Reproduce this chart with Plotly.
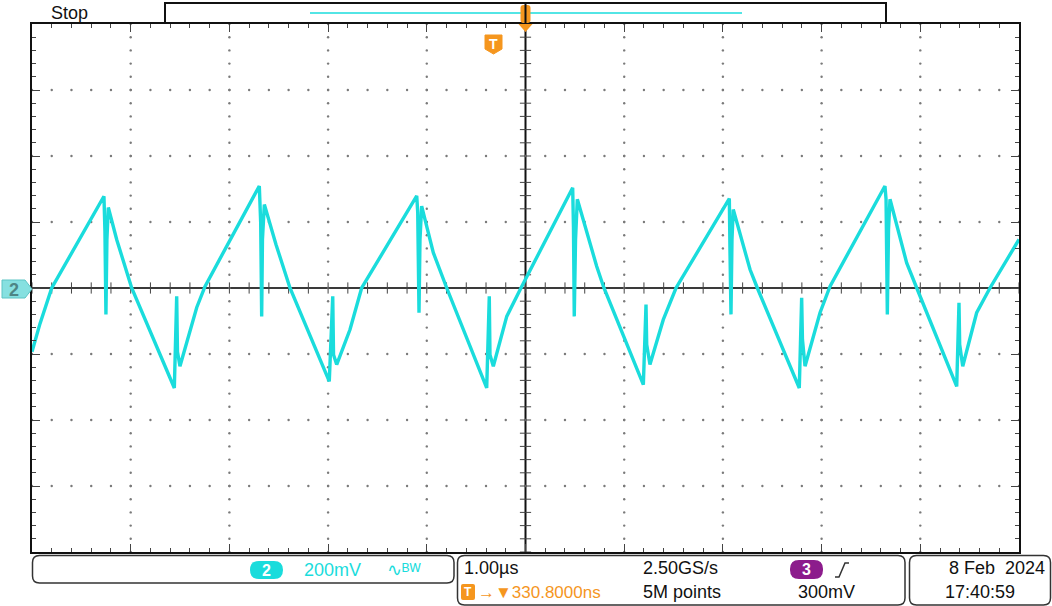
import numpy as np
import plotly.graph_objects as go

# ---- Channel 2 waveform: vertex times (µs) and levels (mV) ----
t_us = [-5.000, -4.919, -4.800, -4.271, -4.261, -4.251, -4.241, -4.227, -4.142, -3.990,
        -3.558, -3.534, -3.526, -3.501, -3.331, -3.247, -2.697, -2.683, -2.673, -2.665,
        -2.646, -2.528, -2.386, -1.988, -1.953, -1.945, -1.913, -1.778, -1.660, -1.102,
        -1.092, -1.079, -1.069, -1.052, -0.934, -0.798, -0.393, -0.367, -0.360, -0.326,
        -0.190, -0.046, 0.478, 0.486, 0.494, 0.507, 0.525, 0.721, 0.795, 1.194,
        1.221, 1.228, 1.261, 1.396, 1.525, 2.065, 2.072, 2.082, 2.092, 2.105,
        2.275, 2.349, 2.774, 2.798, 2.806, 2.832, 2.984, 3.085, 3.642, 3.653,
        3.666, 3.678, 3.693, 3.862, 3.964, 4.369, 4.392, 4.399, 4.430, 4.571,
        4.706, 5.000]
v_mV = [-193, -108, 0, 278, 171, -80, 147, 244, 147, 0,
        -303, -25, -193, -237, -59, 5, 309, 198, -86, 147,
        253, 132, 0, -283, -25, -202, -232, -126, 0, 279,
        229, -75, 147, 248, 107, 0, -303, -25, -202, -237,
        -86, 0, 304, 184, -86, 147, 269, 66, 0, -293,
        -50, -171, -232, -96, 0, 271, 107, -80, 147, 238,
        56, 0, -303, -30, -156, -237, -75, 5, 309, 269,
        -80, 178, 269, 76, 0, -298, -45, -171, -237, -75,
        0, 147]

# ---- Scope settings ----
n_hdiv = 10
n_vdiv = 8
time_per_div_us = 1.0
mv_per_div = 200

status_text = "Stop"
ch2_scale = "200mV"
bw_limit = "∿ᴮᵂ"
timebase = "1.00µs"
sample_rate = "2.50GS/s"
record_len = "5M points"
trig_delay = "→▼330.8000ns"
trig_level = "300mV"
date_text = "8 Feb\u00a0\u00a02024"
time_text = "17:40:59"

CYAN = "#1ADCDC"
ORANGE = "#F5961E"
PURPLE = "#8C1C8C"
FONT = "Liberation Sans, Arial, sans-serif"

W, H = 1052, 606
L, R, T, B = 32, 33, 24, 54
PW, PH = W - L - R, H - T - B

x_half = n_hdiv / 2 * time_per_div_us
y_half = n_vdiv / 2 * mv_per_div


def fx(px):
    return (px - L) / PW


def fy(py):
    return (H - B - py) / PH


def rrect(x0, y0, x1, y1, r):
    """Rounded rectangle path in paper coordinates from pixel corners."""
    pts = [
        f"M {fx(x0 + r)},{fy(y0)}",
        f"L {fx(x1 - r)},{fy(y0)}",
        f"Q {fx(x1)},{fy(y0)} {fx(x1)},{fy(y0 + r)}",
        f"L {fx(x1)},{fy(y1 - r)}",
        f"Q {fx(x1)},{fy(y1)} {fx(x1 - r)},{fy(y1)}",
        f"L {fx(x0 + r)},{fy(y1)}",
        f"Q {fx(x0)},{fy(y1)} {fx(x0)},{fy(y1 - r)}",
        f"L {fx(x0)},{fy(y0 + r)}",
        f"Q {fx(x0)},{fy(y0)} {fx(x0 + r)},{fy(y0)}",
        "Z",
    ]
    return " ".join(pts)


def poly(points):
    s = " ".join(("M" if i == 0 else "L") + f" {fx(x)},{fy(y)}" for i, (x, y) in enumerate(points))
    return s + " Z"


fig = go.Figure()

# Graticule dots along the major division lines
minor_t = np.round(np.arange(-x_half, x_half + 1e-9, time_per_div_us / 5), 6)
minor_v = np.round(np.arange(-y_half, y_half + 1e-9, mv_per_div / 5), 6)
major_t = [t for t in np.arange(-x_half + 1, x_half, time_per_div_us) if abs(t) > 1e-9]
major_v = [v for v in np.arange(-y_half + mv_per_div, y_half, mv_per_div) if abs(v) > 1e-9]
gx, gy = [], []
for t in major_t:
    gx += [t] * len(minor_v)
    gy += list(minor_v)
for v in major_v:
    gx += list(minor_t)
    gy += [v] * len(minor_t)
fig.add_trace(go.Scatter(x=gx, y=gy, mode="markers", hoverinfo="skip",
                         marker=dict(size=2.4, color="#7a7a7a")))

# Ticks on the centre cross-hair
fig.add_trace(go.Scatter(x=minor_t, y=[0] * len(minor_t), mode="markers", hoverinfo="skip",
                         marker=dict(symbol="line-ns", size=8, line=dict(width=1, color="#444"))))
fig.add_trace(go.Scatter(x=[0] * len(minor_v), y=minor_v, mode="markers", hoverinfo="skip",
                         marker=dict(symbol="line-ew", size=8, line=dict(width=1, color="#444"))))

# Channel 2 trace
fig.add_trace(go.Scatter(x=t_us, y=v_mV, mode="lines", hoverinfo="skip",
                         line=dict(color=CYAN, width=3.4)))

shapes = []
# centre cross-hair
shapes.append(dict(type="line", xref="x", yref="paper", x0=0, x1=0, y0=0, y1=1,
                   line=dict(color="#111", width=2), layer="below"))
shapes.append(dict(type="line", xref="paper", yref="y", x0=0, x1=1, y0=0, y1=0,
                   line=dict(color="#3a3a3a", width=2), layer="below"))

# record view bar along the top
shapes.append(dict(type="rect", xref="paper", yref="paper", x0=fx(165), x1=fx(886), y0=fy(23), y1=fy(3),
                   line=dict(color="#111", width=2), fillcolor="white"))
shapes.append(dict(type="line", xref="paper", yref="paper", x0=fx(310), x1=fx(742), y0=fy(13), y1=fy(13),
                   line=dict(color=CYAN, width=1.5)))
# trigger position marker
shapes.append(dict(type="path", xref="paper", yref="paper", path=rrect(520.5, 5, 530.5, 23, 3),
                   fillcolor=ORANGE, line=dict(width=0)))
shapes.append(dict(type="line", xref="paper", yref="paper", x0=fx(525.5), x1=fx(525.5), y0=fy(2), y1=fy(24),
                   line=dict(color="#111", width=2)))
shapes.append(dict(type="path", xref="paper", yref="paper",
                   path=poly([(518.5, 24), (532.5, 24), (525.5, 32)]),
                   fillcolor=ORANGE, line=dict(width=0)))
# trigger "T" badge
shapes.append(dict(type="path", xref="paper", yref="paper",
                   path=poly([(485, 35), (502, 35), (502, 49), (493.5, 54), (485, 49)]),
                   fillcolor=ORANGE, line=dict(color=ORANGE, width=1)))

# channel 2 ground-level marker
shapes.append(dict(type="path", xref="paper", yref="paper",
                   path=poly([(2, 280), (25, 280), (32, 289), (25, 298), (2, 298)]),
                   fillcolor="#86E0E0", line=dict(color="#5CC4C4", width=1)))

# readout boxes
shapes.append(dict(type="path", xref="paper", yref="paper", path=rrect(32.5, 555.5, 454, 583, 7),
                   line=dict(color="#333", width=1.5)))
shapes.append(dict(type="path", xref="paper", yref="paper", path=rrect(457.5, 555.5, 905, 605, 7),
                   line=dict(color="#333", width=1.5)))
shapes.append(dict(type="path", xref="paper", yref="paper", path=rrect(909.5, 555.5, 1050.5, 605, 7),
                   line=dict(color="#333", width=1.5)))
# channel badges
shapes.append(dict(type="path", xref="paper", yref="paper", path=rrect(250, 561, 283, 579, 9),
                   fillcolor=CYAN, line=dict(width=0)))
shapes.append(dict(type="path", xref="paper", yref="paper", path=rrect(790, 560, 823, 579, 9),
                   fillcolor=PURPLE, line=dict(width=0)))
# rising edge glyph
shapes.append(dict(type="path", xref="paper", yref="paper",
                   path=" ".join([f"M {fx(835)},{fy(577)}", f"L {fx(839)},{fy(577)}",
                                  f"L {fx(845)},{fy(563)}", f"L {fx(849)},{fy(563)}"]),
                   line=dict(color="#333", width=1.5)))
# small trigger icon in the readout
shapes.append(dict(type="path", xref="paper", yref="paper", path=rrect(461, 584, 475, 600, 2),
                   fillcolor=ORANGE, line=dict(width=0)))

ann = []


def text(s, x, y, size=18, color="#111", anchor="left", bold=False):
    if bold:
        s = f"<b>{s}</b>"
    ann.append(dict(text=s, x=fx(x), y=fy(y), xref="paper", yref="paper", showarrow=False,
                    xanchor=anchor, yanchor="middle", font=dict(family=FONT, size=size, color=color)))


text(status_text, 49, 13)
text("T", 493.5, 44, size=14, color="white", anchor="center", bold=True)
text("2", 14, 289.5, size=18, color="#4E8585", anchor="center", bold=True)
text("2", 266.5, 570, size=16, color="white", anchor="center", bold=True)
text(ch2_scale, 302, 570, color=CYAN)
text(bw_limit, 385, 570, size=18, color=CYAN)
text(timebase, 462, 568)
text(sample_rate, 641, 568)
text("3", 806.5, 569.5, size=16, color="white", anchor="center", bold=True)
text(date_text, 1047, 568, anchor="right")
text("T", 468, 592, size=12, color="white", anchor="center", bold=True)
text(trig_delay, 476, 592, size=17, color=ORANGE)
text(record_len, 641, 592)
text(trig_level, 796, 592)
text(time_text, 943, 592)

axis_common = dict(showgrid=False, zeroline=False, showticklabels=False, showline=True,
                   linecolor="#111", linewidth=2, mirror="ticks", ticks="inside",
                   tickcolor="#444", tickwidth=1, ticklen=8, fixedrange=True)

fig.update_layout(
    width=W, height=H,
    margin=dict(l=L, r=R, t=T, b=B, pad=0),
    paper_bgcolor="white", plot_bgcolor="white",
    showlegend=False,
    shapes=shapes, annotations=ann,
    xaxis=dict(range=[-x_half, x_half], tickmode="linear", tick0=-x_half, dtick=time_per_div_us,
               minor=dict(ticks="inside", dtick=time_per_div_us / 5, ticklen=4, tickcolor="#444"),
               **axis_common),
    yaxis=dict(range=[-y_half, y_half], tickmode="linear", tick0=-y_half, dtick=mv_per_div,
               minor=dict(ticks="inside", dtick=mv_per_div / 5, ticklen=4, tickcolor="#444"),
               **axis_common),
)

fig.write_html("out.html", config=dict(displayModeBar=False, staticPlot=True))
